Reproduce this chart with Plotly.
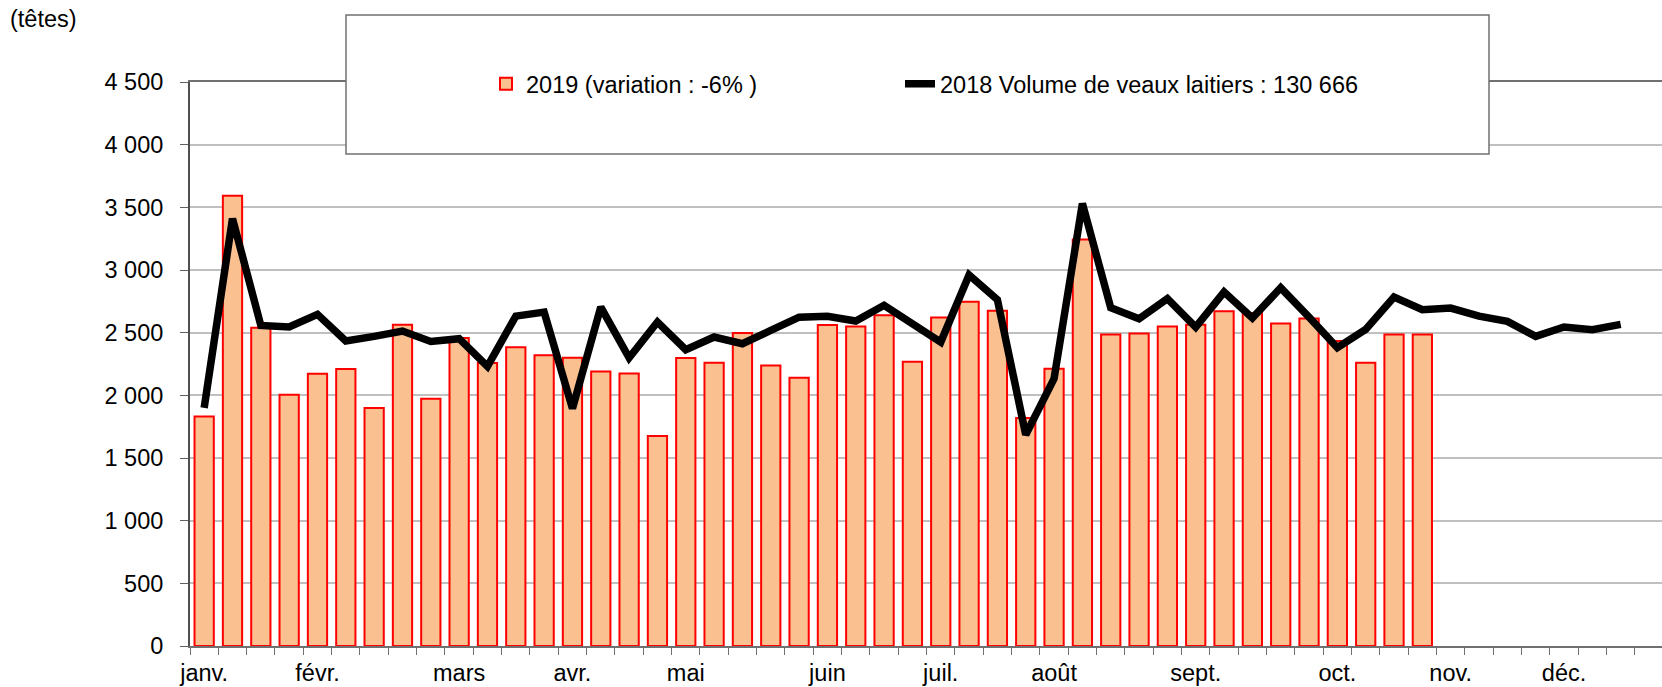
import plotly.graph_objects as go

# ---- data ----
weeks = list(range(52))  # week index (0 = first week of January)
month_labels = ["janv.", "févr.", "mars", "avr.", "mai", "juin", "juil.",
                "août", "sept.", "oct.", "nov.", "déc."]
month_weeks = [0, 4, 9, 13, 17, 22, 26, 30, 35, 40, 44, 48]

vol_2019 = [1832, 3592, 2539, 2005, 2172, 2210, 1899, 2563, 1973, 2457, 2257,
            2383, 2319, 2300, 2191, 2175, 1675, 2297, 2260, 2497, 2239, 2141,
            2561, 2550, 2638, 2268, 2622, 2747, 2675, 1819, 2212, 3244, 2486,
            2494, 2550, 2563, 2670, 2656, 2574, 2614, 2433, 2260, 2486, 2486]

vol_2018 = [1900, 3410, 2558, 2545, 2646, 2433, 2470, 2513, 2430, 2452, 2231,
            2632, 2664, 1895, 2704, 2300, 2585, 2364, 2465, 2412, 2518, 2624,
            2630, 2593, 2718, 2571, 2425, 2960, 2763, 1685, 2133, 3530, 2699,
            2611, 2772, 2545, 2824, 2617, 2858, 2624, 2380, 2526, 2784, 2683,
            2696, 2632, 2590, 2470, 2545, 2523, 2566]

y_ticks = [0, 500, 1000, 1500, 2000, 2500, 3000, 3500, 4000, 4500]
y_tick_text = ["0", "500", "1 000", "1 500", "2 000", "2 500", "3 000",
               "3 500", "4 000", "4 500"]

name_2019 = "2019 (variation : -6% )"
name_2018 = "2018 Volume de veaux laitiers : 130 666"

FONT = "Liberation Sans, Arial, sans-serif"
FS = 23.5
W, H = 1662, 687
L, R, T, B = 190, 0, 82, 41

fig = go.Figure()
fig.add_trace(go.Bar(
    x=weeks[:len(vol_2019)], y=vol_2019, name=name_2019, legend="legend",
    marker=dict(color="#FAC090", line=dict(color="#FF0000", width=2)),
))
fig.add_trace(go.Scatter(
    x=weeks[:len(vol_2018)], y=vol_2018, name=name_2018, mode="lines",
    legend="legend2",
    line=dict(color="#000000", width=7.5),
))

plot_w = W - L - R
plot_h = H - T - B
cat_px = 28.33
x_max = -0.5 + plot_w / cat_px


def px_x(px):
    return (px - L) / plot_w


def px_y(py):
    return (H - B - py) / plot_h


legend_common = dict(
    orientation="h", xanchor="left", yanchor="middle",
    bgcolor="rgba(0,0,0,0)", borderwidth=0,
    font=dict(family=FONT, size=FS, color="#000000"),
)

fig.update_layout(
    width=W, height=H,
    margin=dict(l=L, r=R, t=T, b=B, pad=0),
    paper_bgcolor="white", plot_bgcolor="white",
    font=dict(family=FONT, size=FS, color="#000000"),
    bargap=0.32,
    showlegend=True,
    legend=dict(x=px_x(486), y=px_y(84), **legend_common),
    legend2=dict(x=px_x(900), y=px_y(84), **legend_common),
    xaxis=dict(
        range=[-0.5, x_max], tickmode="array", tickvals=month_weeks,
        ticktext=month_labels, ticks="", showgrid=False, zeroline=False,
        showline=True, linecolor="#707070", linewidth=2, mirror=True,
        tickfont=dict(family=FONT, size=FS), ticklabelstandoff=5,
        minor=dict(tickmode="linear", tick0=-0.5, dtick=1, ticks="outside",
                   ticklen=7, tickcolor="#707070", tickwidth=1, showgrid=False),
    ),
    yaxis=dict(
        range=[0, 4500], tickmode="array", tickvals=y_ticks,
        ticktext=y_tick_text, ticks="outside", ticklen=8, tickcolor="#606060",
        showgrid=True, gridcolor="#C0C0C0", gridwidth=2, zeroline=False,
        showline=True, linecolor="#505050", linewidth=2,
        tickfont=dict(family=FONT, size=FS), ticklabelstandoff=12,
    ),
    shapes=[dict(
        type="rect", xref="paper", yref="paper", layer="above",
        x0=px_x(346), x1=px_x(1489), y0=px_y(154), y1=px_y(15),
        fillcolor="white", line=dict(color="#707070", width=1.5),
    )],
    annotations=[dict(
        text="(têtes)", xref="paper", yref="paper",
        x=px_x(8), xanchor="left", y=px_y(19), yanchor="middle",
        showarrow=False, font=dict(family=FONT, size=FS, color="#000000"),
    )],
)

fig.write_html("out.html", config={"displayModeBar": False},
               post_script="document.body.style.margin='0';")
